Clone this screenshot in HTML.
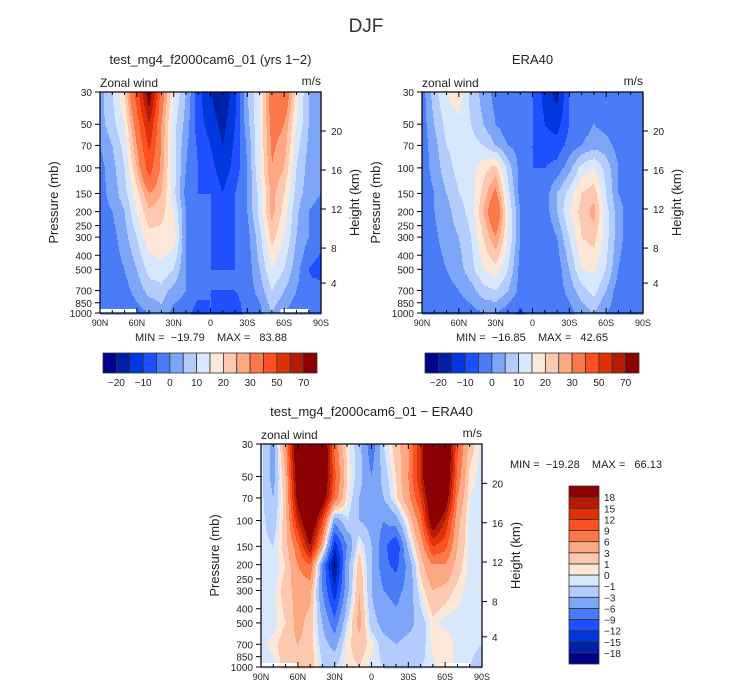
<!DOCTYPE html>
<html><head><meta charset="utf-8"><style>
body{margin:0;background:#fff;}
svg{display:block;font-family:"Liberation Sans",sans-serif;}
</style></head><body>
<svg id="chart" width="732" height="690" viewBox="0 0 732 690" xmlns="http://www.w3.org/2000/svg">
<text x="366" y="32" font-size="19" text-anchor="middle" fill="#333">DJF</text>
</svg>
<script>
const PLEV=[30,50,70,100,150,200,300,500,700,1000];
const PTICKS=[30,50,70,100,150,200,250,300,400,500,700,850,1000];
const LATS=[90,80,70,60,50,40,30,20,10,0,-10,-20,-30,-40,-50,-60,-70,-80,-90];
const LAT_TICKS=[90,60,30,0,-30,-60,-90];
const LAT_LABELS=["90N","60N","30N","0","30S","60S","90S"];
const KM_LABELS=["4","8","12","16","20"];
const KM_PRESS=[622,357,192,103.5,55.7];
const LEVELS_ABS=[-20,-15,-10,-5,0,5,10,15,20,25,30,40,50,60,70];
const LEVELS_ABS_LABELS=["−20","−10","0","10","20","30","50","70"];
const LEVELS_DIFF=[-18,-15,-12,-9,-6,-3,-1,0,1,3,6,9,12,15,18];
const LEVELS_DIFF_LABELS=["18","15","12","9","6","3","1","0","−1","−3","−6","−9","−12","−15","−18"];
const COLORS=["#00008a","#0020a8","#0038e0","#1e50ff","#4a7cf8","#7ea6f8","#b4ccfb","#d8e8fc","#fde8d8","#fcc8b0","#fca882","#fc7848","#fc5020","#e03008","#b41c08","#8b0000"];
const MODEL=[
[3,10,20,45,80,35,15,5,-8,-15,-20,-12,5,15,35,40,17,5,3],
[3,8,15,35,60,30,12,3,-8,-12,-17,-10,3,15,33,30,15,5,3],
[0,5,12,30,52,29,12,1,-6,-10,-15,-9,1,15,31,28,12,4,1],
[-2,3,10,25,45,28,12,0,-5,-8,-13,-8,0,15,30,25,10,3,0],
[-2,2,8,18,30,25,12,-2,-5,-5,-10,-5,0,12,27,20,8,2,0],
[-2,0,5,15,24,22,15,0,-5,-5,-8,-5,0,12,27,18,6,0,-2],
[-3,-2,3,10,18,18,18,0,-5,-5,-6,-5,-2,8,22,15,5,0,-2],
[-3,-3,0,5,12,14,10,0,-3,-5,-5,-5,-3,5,15,10,2,-5,-8],
[-3,-3,-2,2,7,8,3,0,-3,-5,-5,-5,-3,2,10,5,0,-4,-2],
[-3,-3,-3,-2,0,3,-2,-3,-8,-5,-7,-8,-3,-2,5,0,-3,-3,-1]];
const ERA=[
[-3,8,15,18,8,3,-2,-3,-3,-5,-12,-17,-5,-3,-3,-3,-3,-3,-3],
[-3,5,12,14,10,5,0,-3,0,-5,-10,-12,-5,-3,0,-2,-3,-3,-3],
[-3,3,10,12,12,10,5,0,-2,-5,-8,-8,-3,0,3,2,-2,-3,-3],
[-3,2,8,12,13,18,22,8,-2,-5,-5,-3,3,12,15,8,0,-3,-3],
[-3,0,5,10,12,22,32,12,-2,-5,-3,5,12,20,23,10,0,-3,-3],
[-3,0,3,8,12,25,40,15,0,-5,-3,5,15,22,27,12,2,-3,-3],
[-3,-1,2,5,10,20,30,15,0,-3,-5,0,10,20,22,12,2,-3,-3],
[-3,-2,0,3,8,15,18,10,-2,-3,-5,-3,5,15,16,10,0,-5,-3],
[-3,-3,-2,0,3,8,10,5,-2,-3,-3,-3,2,8,12,5,-3,-3,-3],
[-5,-3,-3,-3,-2,0,0,-3,-6,-3,-3,-3,-2,2,5,0,-3,-3,-3]];
const DIFF=[
[-0.5,-4,5,25,30,25,8,0.5,-2,-8,-1,2,5,15,30,25,10,2,-0.5],
[-0.5,-4,3,22,30,25,10,1,-2,-6,-2,1,6,15,30,25,8,0.5,-0.5],
[-0.5,-3,2,20,28,22,8,0.5,-3,-5,-3,0.5,5,12,25,22,6,0,-0.5],
[-0.5,-2,2,15,25,12,-5,-1,-3,-4,-6,-4,1,8,22,15,4,-0.5,-0.5],
[-0.5,-1,2,8,18,4,-14,-6,0.5,-3,-8,-12,-2,4,12,10,3,-0.5,-0.5],
[-1,-1,1,6,9,-6,-19,-4,2,-3,-8,-10,-5,2,6,6,2,-0.5,-0.5],
[-1,-0.5,2,4,4,-6,-14,-4,3,-3,-6,-7,-5,0,3,2,0.5,-0.5,-1],
[-1,-0.5,1,4,2,-3,-8,-1,4,-2,-4,-5,-4,-2,0.5,-0.5,-0.5,-0.5,-1],
[-0.5,0.5,2,3,2,-2,-4,0.5,2,0.5,-2,-3,-2,-2,0.5,1,-0.5,-0.5,-1],
[-0.5,-0.5,2,2,2,-1,-1,0.5,1,-0.5,-1,-2,-2,-1,-0.5,1,-0.5,-1,-2]];

const NS="http://www.w3.org/2000/svg";
const svg=document.getElementById('chart');
function mk(tag,attrs,parent){const e=document.createElementNS(NS,tag);for(const k in attrs)e.setAttribute(k,attrs[k]);(parent||svg).appendChild(e);return e;}
function txt(x,y,s,size,anchor,parent,extra){const t=mk('text',Object.assign({x:x,y:y,'font-size':size,'text-anchor':anchor||'middle',fill:'#222'},extra||{}),parent);t.textContent=s;return t;}

function makePanel(cfg){
  const g=mk('g',{});
  
  
  const {x0,y0,w,h,data,levels}=cfg;
  const L=Math.log(1000/30);
  const yOf=p=>y0+h*Math.log(p/30)/L;
  const xOf=lat=>x0+w*(90-lat)/180;
  function val(fx,fy){
    const lat=90-180*fx;
    const p=30*Math.exp(fy*L);
    let c=(90-lat)/10;c=Math.max(0,Math.min(LATS.length-1.0001,c));
    const ci=Math.floor(c),ct=c-ci;
    let ri=0;while(ri<PLEV.length-2&&p>PLEV[ri+1])ri++;
    let rt=Math.log(p/PLEV[ri])/Math.log(PLEV[ri+1]/PLEV[ri]);rt=Math.max(0,Math.min(1,rt));
    const a=data[ri][ci]*(1-ct)+data[ri][ci+1]*ct;
    const b=data[ri+1][ci]*(1-ct)+data[ri+1][ci+1]*ct;
    return a*(1-rt)+b*rt;
  }
  function idx(v){let i=0;while(i<levels.length&&v>=levels[i])i++;return i;}
  const field=mk('g',{},g);
  
  
  const step=2;
  for(let yy=0;yy<h;yy+=step){
    let start=0,cur=idx(val(0.5/w,(yy+1)/h));
    for(let xx=1;xx<=w;xx++){
      const c=xx<w?idx(val((xx+0.5)/w,(yy+1)/h)):-1;
      if(c!==cur){
        const r=mk('rect',{x:x0+start,y:y0+yy,width:xx-start+0.6,height:step+0.6,fill:COLORS[cur]},field);
        
        
        start=xx;cur=c;
      }
    }
  }
  (cfg.masks||[]).forEach(m=>{
    const r=mk('rect',{x:xOf(m[0]),y:y0+h-m[2],width:xOf(m[1])-xOf(m[0]),height:m[2],fill:'#fff'},g);
    
    
  });
  const fr=mk('rect',{x:x0,y:y0,width:w,height:h,fill:'none',stroke:'#000','stroke-width':1.2},g);
  
  
  for(let lat=90;lat>=-90;lat-=10){
    const major=lat%30===0,x=xOf(lat),len=major?5:3;
    mk('line',{x1:x,x2:x,y1:y0+h,y2:y0+h-len,stroke:'#000'},g);
    mk('line',{x1:x,x2:x,y1:y0,y2:y0+len,stroke:'#000'},g);
  }
  LAT_TICKS.forEach((lat,i)=>{
    const t=txt(xOf(lat),y0+h+13,LAT_LABELS[i],9,'middle',g);
    
    
  });
  PTICKS.forEach(p=>{
    const y=yOf(p);
    mk('line',{x1:x0,x2:x0-5,y1:y,y2:y,stroke:'#000'},g);
    const t=txt(x0-8,y+4,String(p),10,'end',g);
    
    
  });
  KM_PRESS.forEach((p,i)=>{
    const y=yOf(p);
    mk('line',{x1:x0+w,x2:x0+w+5,y1:y,y2:y,stroke:'#000'},g);
    const t=txt(x0+w+10,y+4,KM_LABELS[i],10,'start',g);
    
    
  });
  const yt=txt(0,0,'Pressure (mb)',13,'middle',g,{transform:`translate(${x0-42},${y0+h/2}) rotate(-90)`});
  
  
  const ht=txt(0,0,'Height (km)',13,'middle',g,{transform:`translate(${x0+w+38},${y0+h/2}) rotate(-90)`});
  
  
  const tt=txt(x0+w/2,y0-28,cfg.title,13,'middle',g);
  
  
  const vl=txt(x0,y0-5,cfg.varname,12,'start',g);
  
  
  const ul=txt(x0+w,y0-7,'m/s',12,'end',g);
  
  
  if(cfg.minmax){
    const mm=txt(cfg.minmax[0],cfg.minmax[1],cfg.minmaxText,11,cfg.minmax[2],g,{style:'white-space:pre'});
    
    
  }
  return g;
}

function hbar(x0,y0,w,h,name){
  const g=mk('g',{});
  
  
  const bw=w/16;
  COLORS.forEach((c,i)=>{
    const r=mk('rect',{x:x0+i*bw,y:y0,width:bw,height:h,fill:c,stroke:'#333','stroke-width':0.8},g);
    
    
  });
  LEVELS_ABS_LABELS.forEach((s,i)=>{
    const t=txt(x0+bw*(1+2*i),y0+h+13,s,10,'middle',g);
    
    
  });
}
function vbar(x0,y0,w,h,name){
  const g=mk('g',{});
  
  
  const bh=h/16;
  COLORS.forEach((c,i)=>{
    const r=mk('rect',{x:x0,y:y0+(15-i)*bh,width:w,height:bh,fill:c,stroke:'#333','stroke-width':0.8},g);
    
    
  });
  LEVELS_DIFF_LABELS.forEach((s,i)=>{
    const t=txt(x0+w+5,y0+bh*(i+1)+4,s,10,'start',g);
    
    
  });
}

makePanel({name:'model-panel',x0:100,y0:92,w:221,h:221,data:MODEL,levels:LEVELS_ABS,
  title:'test_mg4_f2000cam6_01 (yrs 1−2)',varname:'Zonal wind',
  minmax:[211,341,'middle'],minmaxText:'MIN =  −19.79    MAX =   83.88',
  masks:[[90,60,4],[-57,-80,4]]});
makePanel({name:'era40-panel',x0:422,y0:92,w:221,h:221,data:ERA,levels:LEVELS_ABS,
  title:'ERA40',varname:'zonal wind',
  minmax:[532,341,'middle'],minmaxText:'MIN =  −16.85    MAX =   42.65'});
makePanel({name:'difference-panel',x0:261,y0:444,w:221,h:223,data:DIFF,levels:LEVELS_DIFF,
  title:'test_mg4_f2000cam6_01 − ERA40',varname:'zonal wind',
  minmax:[510,468,'start'],minmaxText:'MIN =  −19.28    MAX =   66.13',
  masks:[[90,60,4],[-57,-80,4]]});
hbar(103,353,214,20,'model-colorbar');
hbar(425,353,214,20,'era40-colorbar');
vbar(569,486,30,178,'difference-colorbar');
</script>
</body></html>
